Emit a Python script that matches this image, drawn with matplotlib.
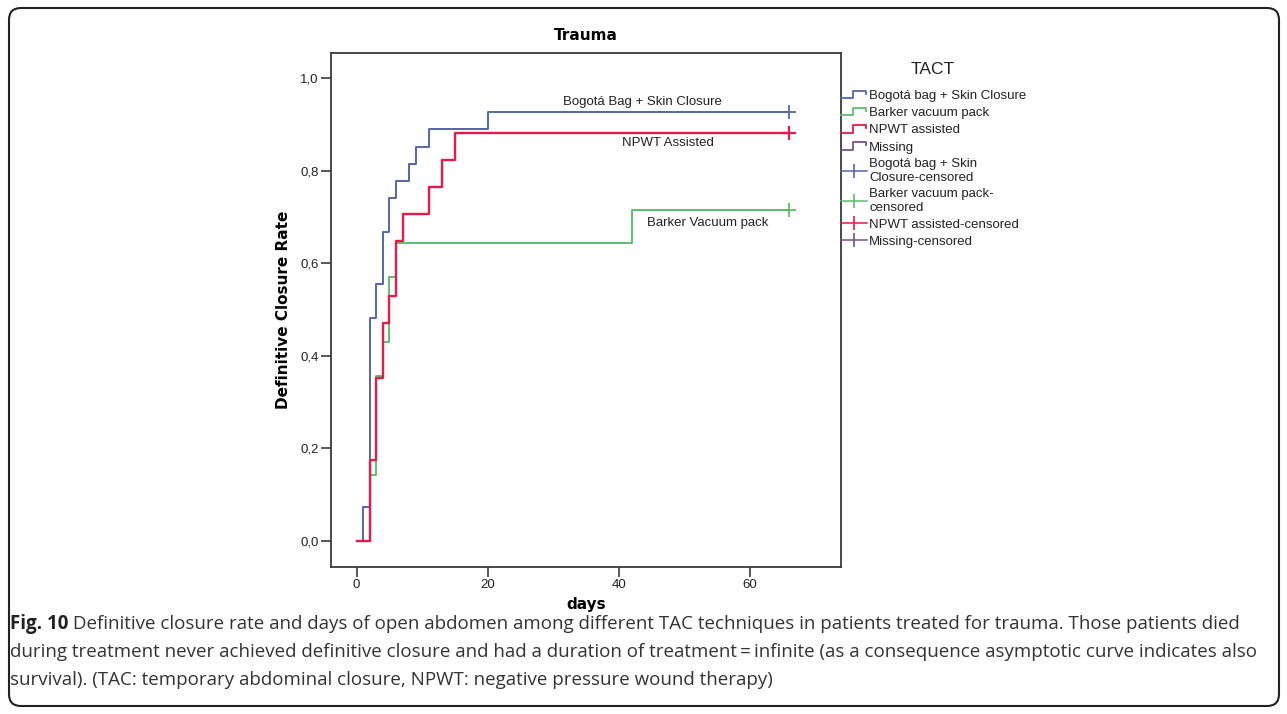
import matplotlib
matplotlib.use("Agg")
import matplotlib.pyplot as plt
from matplotlib import font_manager
from matplotlib.legend_handler import HandlerBase
from matplotlib.lines import Line2D
from matplotlib.patches import FancyBboxPatch
from matplotlib.transforms import IdentityTransform


# Kaplan-Meier style closure curves (days, cumulative rate)
bogota_days = [0, 1, 2, 3, 4, 5, 6, 8, 9, 11, 20, 66]
bogota_rate = [0.000, 0.074, 0.481, 0.556, 0.667, 0.741, 0.778, 0.815, 0.852, 0.889, 0.926, 0.926]
barker_days = [0, 2, 3, 4, 5, 6, 42, 66]
barker_rate = [0.000, 0.143, 0.357, 0.429, 0.571, 0.643, 0.714, 0.714]
npwt_days = [0, 2, 3, 4, 5, 6, 7, 11, 13, 15, 66]
npwt_rate = [0.000, 0.176, 0.353, 0.471, 0.529, 0.647, 0.706, 0.765, 0.824, 0.882, 0.882]

# censored observations
bogota_cens_days = [66]
bogota_cens_rate = [0.926]
barker_cens_days = [66]
barker_cens_rate = [0.714]
npwt_cens_days = [66]
npwt_cens_rate = [0.882]

x_ticks = [0, 20, 40, 60]
y_ticks = [0.0, 0.2, 0.4, 0.6, 0.8, 1.0]

legend_labels = [
    "Bogotá bag + Skin Closure",
    "Barker vacuum pack",
    "NPWT assisted",
    "Missing",
    "Bogotá bag + Skin\nClosure-censored",
    "Barker vacuum pack-\ncensored",
    "NPWT assisted-censored",
    "Missing-censored",
]

caption_bold = "Fig. 10"
caption_lines = [
    " Definitive closure rate and days of open abdomen among different TAC techniques in patients treated for trauma. Those patients died",
    "during treatment never achieved definitive closure and had a duration of treatment\u2009=\u2009infinite (as a consequence asymptotic curve indicates also",
    "survival). (TAC: temporary abdominal closure, NPWT: negative pressure wound therapy)",
]

BLUE = "#5566AA"
GREEN = "#5DBE6A"
RED = "#E8194B"
PURPLE = "#75508E"
FRAME = "#3a3a3a"

W, H = 1287, 714


class StepHandler(HandlerBase):
    # small step-shaped key like the SPSS legend
    def create_artists(self, legend, orig_handle, xdescent, ydescent, width, height, fontsize, trans):
        x0, y0 = -xdescent, -ydescent
        xs = [x0, x0 + 0.45 * width, x0 + 0.45 * width, x0 + 0.95 * width, x0 + 0.95 * width]
        ys = [y0 + 0.1 * height, y0 + 0.1 * height, y0 + 0.9 * height, y0 + 0.9 * height, y0 + 0.6 * height]
        line = Line2D(xs, ys, color=orig_handle.get_color(), lw=orig_handle.get_linewidth(), transform=trans)
        return [line]


names = {f.name for f in font_manager.fontManager.ttflist}
caption_family = "Liberation Sans Narrow" if "Liberation Sans Narrow" in names else "Open Sans"

fig = plt.figure(figsize=(W / 100, H / 100), dpi=100)
ax = fig.add_axes([331 / W, 1 - 567 / H, 510 / W, 514 / H])

ax.step(bogota_days, bogota_rate, where="post", color=BLUE, lw=1.4)
ax.step(barker_days, barker_rate, where="post", color=GREEN, lw=1.4)
ax.step(npwt_days, npwt_rate, where="post", color=RED, lw=1.7)

ax.plot(bogota_cens_days, bogota_cens_rate, ls="none", marker="+", ms=10, mew=1.3, color=BLUE)
ax.plot(barker_cens_days, barker_cens_rate, ls="none", marker="+", ms=10, mew=1.3, color=GREEN)
ax.plot(npwt_cens_days, npwt_cens_rate, ls="none", marker="+", ms=10, mew=1.6, color=RED)

ax.set_xlim(-3.92, 73.94)
ax.set_ylim(-0.056, 1.054)
ax.set_xticks(x_ticks)
ax.set_yticks(y_ticks)
ax.set_yticklabels([f"{v:.1f}".replace(".", ",") for v in y_ticks])

for spine in ax.spines.values():
    spine.set_color(FRAME)
    spine.set_linewidth(1.3)
ax.tick_params(direction="out", length=7, width=1.2, color=FRAME, labelsize=9.5, pad=2)
for lab in ax.get_xticklabels() + ax.get_yticklabels():
    lab.set_family("Liberation Sans")
    lab.set_color("#222222")

ax.set_xlabel("days", family="DejaVu Sans", fontweight="bold", fontsize=11, va="center")
ax.set_ylabel("Definitive Closure Rate", family="DejaVu Sans", fontweight="bold", fontsize=11, va="center")
ax.xaxis.set_label_coords(0.5, (567 - 605) / 514)
ax.yaxis.set_label_coords((283 - 331) / 510, 0.5)

fig.text(586 / W, 1 - 36 / H, "Trauma", family="DejaVu Sans", fontweight="bold", fontsize=11,
         ha="center", va="center")

# curve names inside the plot
ax.text(43.6, 0.948, "Bogotá Bag + Skin Closure", family="Liberation Sans", fontsize=9.5,
        ha="center", va="center", color="#222222")
ax.text(47.5, 0.860, "NPWT Assisted", family="Liberation Sans", fontsize=9.5,
        ha="center", va="center", color="#222222")
ax.text(53.6, 0.687, "Barker Vacuum pack", family="Liberation Sans", fontsize=9.5,
        ha="center", va="center", color="#222222")

# legend
step_handles = [Line2D([], [], color=c, lw=1.3) for c in (BLUE, GREEN, RED, PURPLE)]
cens_handles = [Line2D([], [], color=c, lw=1.1, marker="|", ms=10, mew=1.2) for c in (BLUE, GREEN, RED, PURPLE)]
leg = ax.legend(
    step_handles + cens_handles,
    legend_labels,
    loc="upper left",
    bbox_to_anchor=(841 / W, 1 - 90 / H),
    bbox_transform=fig.transFigure,
    frameon=False,
    prop={"family": "Liberation Sans", "size": 9.5},
    handlelength=2.0,
    handletextpad=0.15,
    labelspacing=0.37,
    borderpad=0,
    borderaxespad=0,
    numpoints=1,
    handler_map={h: StepHandler() for h in step_handles},
)
for t in leg.get_texts():
    t.set_linespacing(1.12)
    t.set_color("#222222")
fig.text(933 / W, 1 - 69 / H, "TACT", family="Liberation Sans", fontsize=12.5, ha="center", va="center",
         color="#222222")

# caption below the chart
renderer = fig.canvas.get_renderer()
bold = fig.text(10 / W, 1 - 624 / H, caption_bold, family=caption_family, fontweight="bold",
                fontsize=13.5, va="center", color="#222222")
bold_w = bold.get_window_extent(renderer).width
caption_y = [624, 652, 680]
caption_x = [10 + bold_w, 10, 10]
for text, x, y in zip(caption_lines, caption_x, caption_y):
    fig.text(x / W, 1 - y / H, text, family=caption_family, fontsize=13.5, va="center", color="#333333")

border = FancyBboxPatch((9, 8), 1270, 698, boxstyle="round,pad=0,rounding_size=12",
                        transform=IdentityTransform(), fill=False, ec="#222222", lw=1.5)
fig.patches.append(border)

fig.savefig("out.png", dpi=100)
